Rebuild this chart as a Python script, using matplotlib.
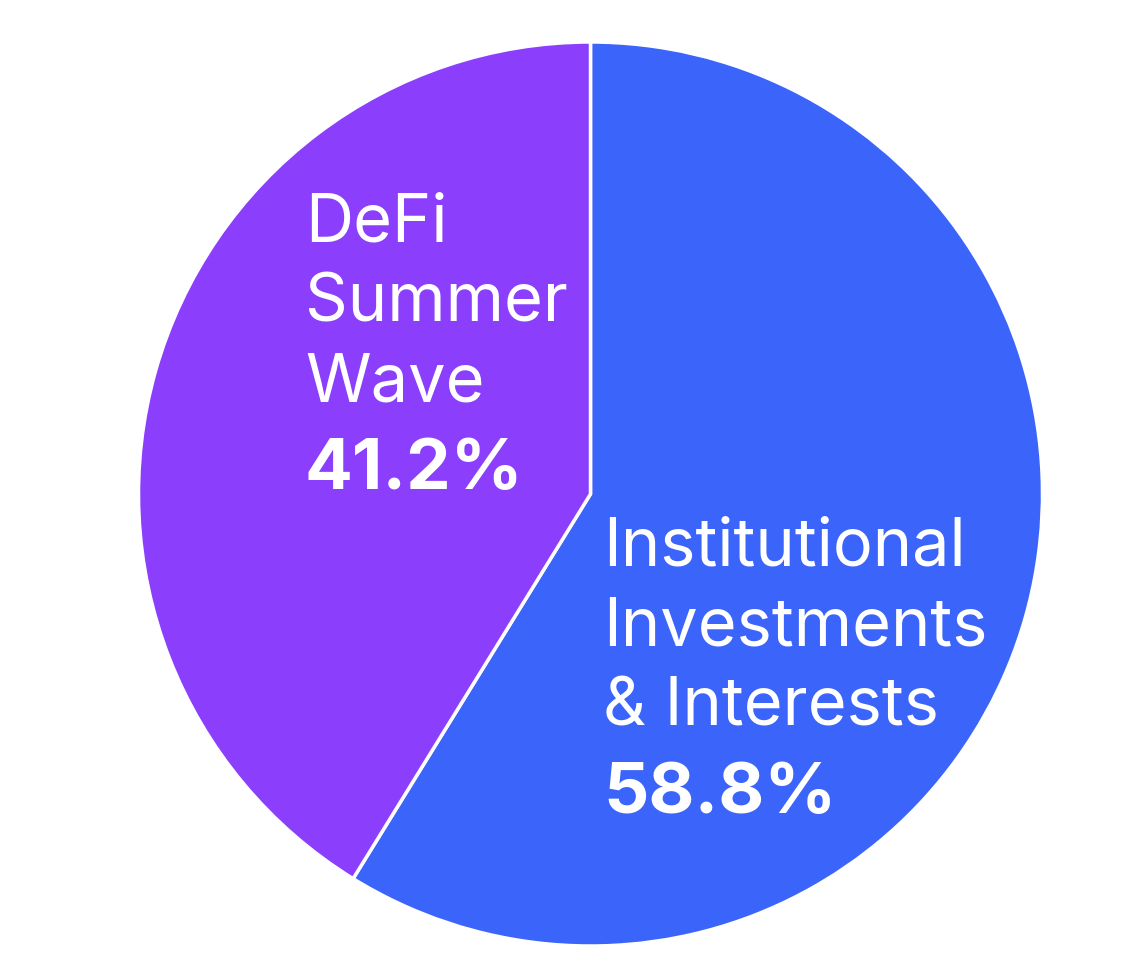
import matplotlib.pyplot as plt

# Pie data
labels = ['Institutional\nInvestments\n& Interests', 'DeFi\nSummer\nWave']
values = [58.8, 41.2]
colors = ['#3B64FB', '#8B3FFD']

# Pixel layout of the reference picture
W, H = 1136, 965
cx, cy, R = 590.5, 494, 452

def px(x, y):
    # pixel -> data coordinates (pie centre at 0,0, radius 1)
    return (x - cx) / R, (cy - y) / R

fig = plt.figure(figsize=(W / 100, H / 100), dpi=100)
ax = fig.add_axes([0, 0, 1, 1])

ax.pie(values, colors=colors, startangle=90, counterclock=False,
       radius=1, center=(0, 0), frame=False,
       wedgeprops=dict(edgecolor='white', linewidth=2.5))
ax.set_xlim(-cx / R, (W - cx) / R)
ax.set_ylim(-(H - cy) / R, cy / R)
ax.axis('off')

# label anchors: left edge and baseline of first line (pixels)
anchors = [(603, 566), (305, 242)]
step = 79.5
for lab, val, (lx, ly) in zip(labels, values, anchors):
    lines = lab.split('\n')
    for i, line in enumerate(lines):
        x, y = px(lx, ly + i * step)
        ax.text(x, y, line, fontsize=48, family='Inter', color='white',
                ha='left', va='baseline')
    x, y = px(lx, ly + len(lines) * step + 8)
    ax.text(x, y, f'{val}%', fontsize=51, family='Inter', fontweight='bold',
            color='white', ha='left', va='baseline')

fig.savefig('out.png', dpi=100, facecolor='white')
